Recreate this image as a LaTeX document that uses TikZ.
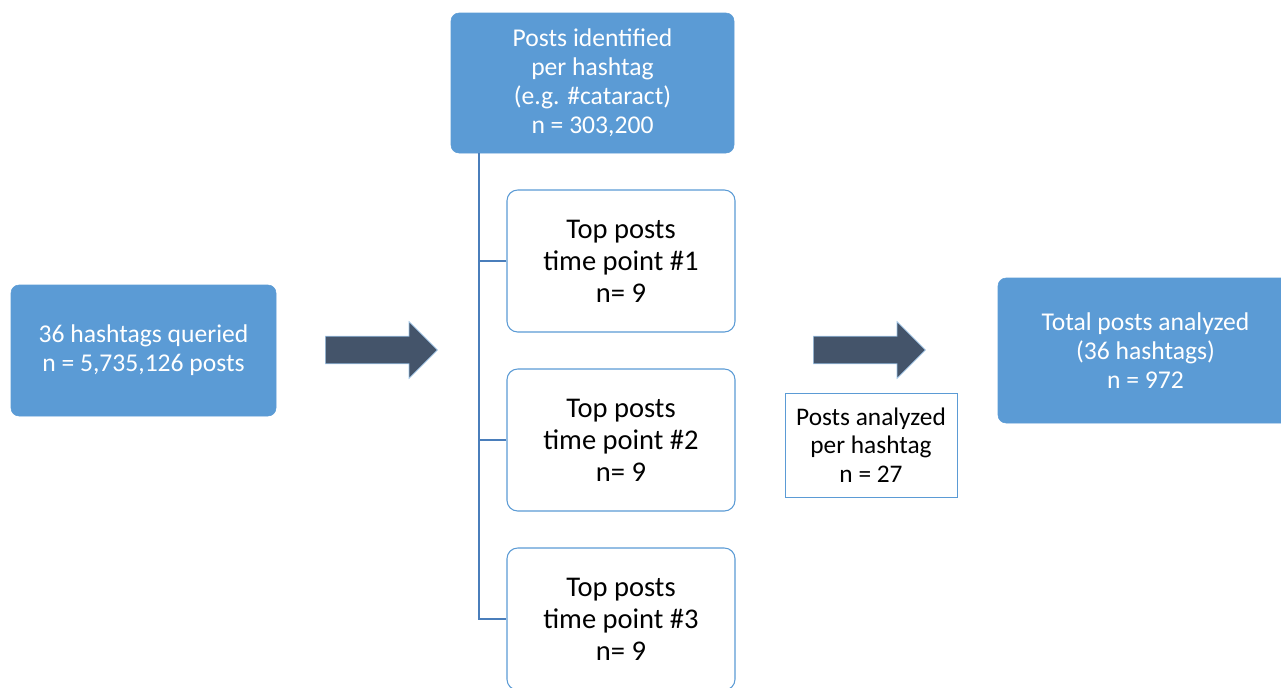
\documentclass[tikz,border=0pt]{standalone}
\usepackage{fontspec}
\setmainfont{Carlito}
\usepackage{xcolor}
\usetikzlibrary{shapes.arrows}
\definecolor{boxblue}{HTML}{5B9BD5}
\definecolor{linkblue}{HTML}{4A7EBB}
\definecolor{arrowgray}{HTML}{44546A}
\tikzset{
    bluebox/.style={draw=boxblue,fill=boxblue,rounded corners=6pt,text=white,align=center,
        font=\fontsize{19.2}{21.75}\selectfont,inner sep=0pt},
    timebox/.style={draw=boxblue,fill=white,rounded corners=8pt,line width=0.8pt,align=center,
        minimum width=171pt,minimum height=106.5pt,font=\fontsize{21.4}{24}\selectfont,inner sep=0pt},
    notebox/.style={draw=boxblue,fill=white,line width=0.6pt,align=center,
        minimum width=129pt,minimum height=78pt,font=\fontsize{19}{21.4}\selectfont,inner sep=0pt},
    bigarrow/.style={single arrow,fill=arrowgray,draw=boxblue!60,line width=0.5pt,
        minimum height=84pt,inner sep=10.1pt,single arrow head extend=10.9pt},
    branch/.style={draw=linkblue,line width=1.1pt},
}
\begin{document}
\begin{tikzpicture}[x=0.75pt,y=-0.75pt]
    \useasboundingbox (0,0) rectangle (1281,687);
    \node (query) [bluebox,minimum width=198.75pt,minimum height=98.25pt] at (143.5,350.5)
        {36 hashtags queried\\n = 5,735,126 posts};
    \node (found) [bluebox,minimum width=212.25pt,minimum height=105pt] at (592.5,83)
        {Posts identified\\per hashtag\\(e.g. \#cataract)\\n = 303,200};
    \node (top1) [timebox] at (621,261) {Top posts\\time point \#1\\n= 9};
    \node (top2) [timebox] at (621,440) {Top posts\\time point \#2\\n= 9};
    \node (top3) [timebox] at (621,619) {Top posts\\time point \#3\\n= 9};
    \node (total) [bluebox,minimum width=221.25pt,minimum height=108.75pt] at (1145.5,350.5)
        {Total posts analyzed\\(36 hashtags)\\n = 972};
    \node (perhash) [notebox] at (871,445) {Posts analyzed\\per hashtag\\n = 27};
    \node (arrowA) [bigarrow] at (374.5,350) {};
    \node (arrowB) [bigarrow] at (862.5,350) {};
    % tree from the identified posts
    \coordinate (trunk) at (found.south -| 479,0);
    \draw[branch] (trunk) |- (top3.west);
    \draw[branch] (top1.west) -| (trunk);
    \draw[branch] (top2.west) -| (trunk);
\end{tikzpicture}
\end{document}
